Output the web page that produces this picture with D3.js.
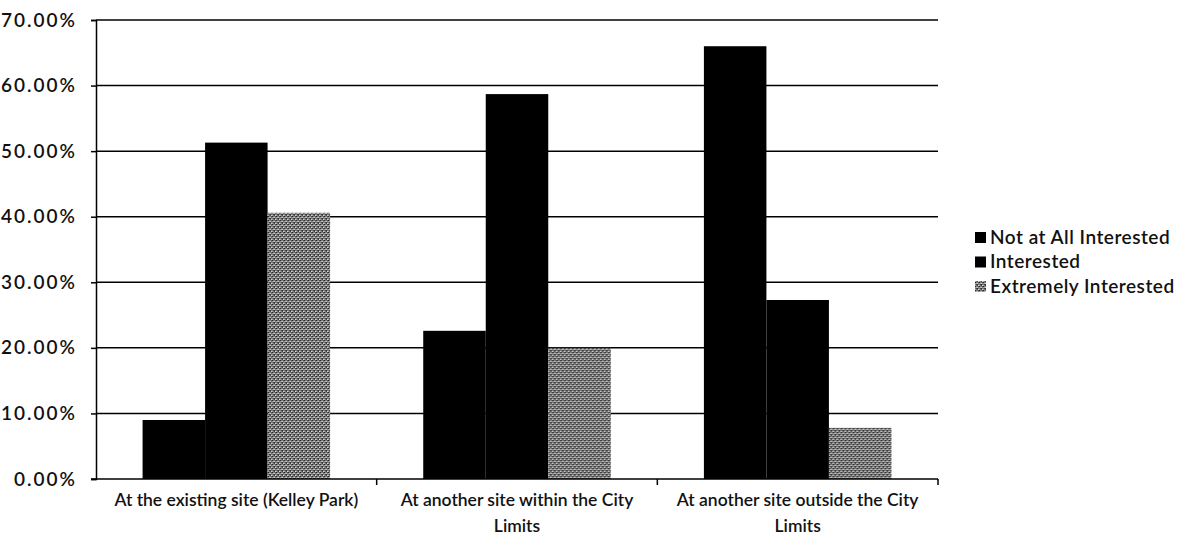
<!DOCTYPE html>
<html>
<head>
<meta charset="utf-8">
<script src="https://cdn.jsdelivr.net/npm/d3@7.9.0/dist/d3.min.js"></script>
<style>
  body { margin: 0; background: #fff; }
  svg text { font-family: Lato, "Open Sans", sans-serif; fill: #111; font-weight: 600; }
</style>
</head>
<body>
<div id="chart"></div>
<script>
const categories = [
  ['At the existing site (Kelley Park)'],
  ['At another site within the City', 'Limits'],
  ['At another site outside the City', 'Limits']
];
const series = ['Not at All Interested', 'Interested', 'Extremely Interested'];
const notAtAll   = [0.090, 0.226, 0.660];
const interested = [0.513, 0.587, 0.273];
const extremely  = [0.406, 0.200, 0.078];
const yTicks = [0, 0.1, 0.2, 0.3, 0.4, 0.5, 0.6, 0.7];

const width = 1182, height = 541;
const margin = {top: 20, right: 244, bottom: 62, left: 96};

const svg = d3.select('#chart').append('svg')
  .attr('width', width).attr('height', height);

// grey stipple for the third series
const defs = svg.append('defs');
const pat = defs.append('pattern')
  .attr('id', 'stipple').attr('width', 4).attr('height', 4)
  .attr('patternUnits', 'userSpaceOnUse');
pat.append('rect').attr('width', 4).attr('height', 4).attr('fill', '#7a7a7a');
[[0,0,'#222'],[2,1,'#c8c8c8'],[1,2,'#444'],[3,3,'#d6d6d6'],[3,0,'#555'],[0,3,'#a5a5a5'],[2,2,'#333'],[1,1,'#b0b0b0'],[2,3,'#4a4a4a'],[0,1,'#999']]
  .forEach(([px,py,c]) => pat.append('rect').attr('x',px).attr('y',py).attr('width',1).attr('height',1).attr('fill',c));

const color = d3.scaleOrdinal().domain(series).range(['#000', '#000', 'url(#stipple)']);

const x0 = d3.scaleBand()
  .domain(d3.range(categories.length))
  .range([margin.left, width - margin.right])
  .padding(0);
const x1 = d3.scaleBand()
  .domain(series)
  .range([0, x0.bandwidth()])
  .paddingInner(0)
  .paddingOuter(0.745);
const y = d3.scaleLinear()
  .domain([0, 0.7])
  .range([height - margin.bottom, margin.top]);

// y axis
const yAxis = svg.append('g')
  .attr('transform', `translate(${margin.left},0)`)
  .call(d3.axisLeft(y).tickValues(yTicks)
    .tickFormat(d3.format('.2%'))
    .tickSize(5).tickPadding(14));
yAxis.select('.domain').attr('stroke', '#000').attr('stroke-width', 1.5);
yAxis.selectAll('.tick line').attr('stroke', '#000').attr('stroke-width', 1.5);
yAxis.selectAll('.tick text')
  .style('font-size', '19px').style('letter-spacing', '2px').attr('fill', '#111');

// gridlines
svg.append('g')
  .selectAll('line')
  .data(yTicks.slice(1))
  .join('line')
    .attr('x1', margin.left).attr('x2', width - margin.right)
    .attr('y1', d => y(d)).attr('y2', d => y(d))
    .attr('stroke', '#000').attr('stroke-width', 1.5);

// bars
const rows = categories.map((c, i) => ({i, values: [notAtAll[i], interested[i], extremely[i]]}));
svg.append('g')
  .selectAll('g')
  .data(rows)
  .join('g')
    .attr('transform', d => `translate(${x0(d.i)},0)`)
  .selectAll('rect')
  .data(d => series.map((s, k) => ({s, v: d.values[k]})))
  .join('rect')
    .attr('x', d => x1(d.s))
    .attr('y', d => y(d.v))
    .attr('width', x1.bandwidth())
    .attr('height', d => y(0) - y(d.v))
    .attr('fill', d => color(d.s));

// x axis
const xAxis = svg.append('g')
  .attr('transform', `translate(0,${y(0)})`);
xAxis.append('line')
  .attr('x1', margin.left - 5).attr('x2', width - margin.right)
  .attr('stroke', '#000').attr('stroke-width', 1.5);
xAxis.selectAll('.tk')
  .data(d3.range(categories.length))
  .join('line')
    .attr('class', 'tk')
    .attr('x1', d => x0(d) + x0.bandwidth()).attr('x2', d => x0(d) + x0.bandwidth())
    .attr('y1', 0).attr('y2', 6)
    .attr('stroke', '#000').attr('stroke-width', 1.5);
xAxis.selectAll('text')
  .data(categories)
  .join('text')
    .attr('text-anchor', 'middle')
    .attr('x', (d, i) => x0(i) + x0.bandwidth() / 2)
    .attr('y', 27)
    .style('font-size', '17.5px')
  .selectAll('tspan')
  .data(d => d)
  .join('tspan')
    .attr('x', function() { return d3.select(this.parentNode).attr('x'); })
    .attr('dy', (d, j) => j === 0 ? 0 : 26)
    .text(d => d);

// legend
const legend = svg.append('g').attr('transform', 'translate(975,237)');
const li = legend.selectAll('g')
  .data(series)
  .join('g')
    .attr('transform', (d, i) => `translate(0,${i * 24.5})`);
li.append('rect')
  .attr('x', 0).attr('y', -5).attr('width', 11).attr('height', 11)
  .attr('fill', d => color(d));
li.append('text')
  .attr('x', 15).attr('dy', '0.35em')
  .style('font-size', '19px').style('letter-spacing', '0.5px')
  .text(d => d);
</script>
</body>
</html>
